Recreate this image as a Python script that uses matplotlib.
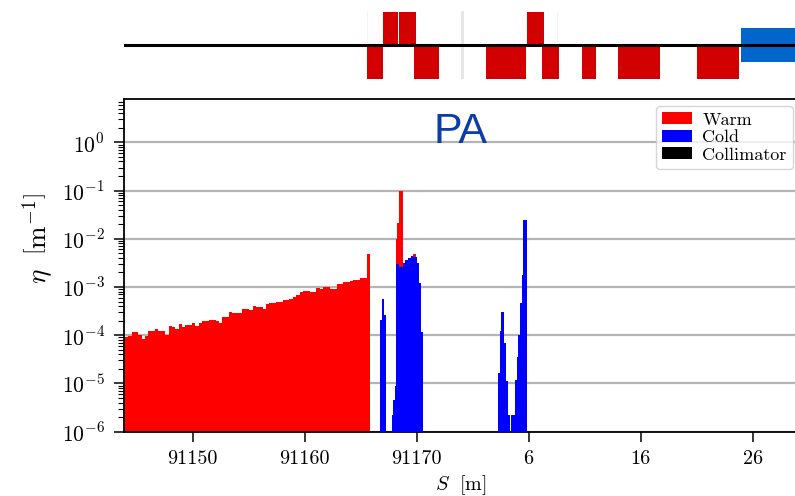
import numpy as np
import matplotlib
matplotlib.use("Agg")
import matplotlib.pyplot as plt
from matplotlib.patches import Patch, Rectangle
from matplotlib.ticker import FixedLocator, FixedFormatter, LogLocator, NullFormatter

plt.rcParams["mathtext.fontset"] = "cm"
plt.rcParams["font.family"] = "serif"
plt.rcParams["font.serif"] = ["cmr10", "DejaVu Serif"]
plt.rcParams["axes.formatter.use_mathtext"] = True

# ring circumference used to wrap the longitudinal coordinate
circumference = 91174.0

# warm-element losses, uniform 0.3 m bins
warm_start = 91143.65
warm_width = 0.3
warm_eta = [
    8.7e-5, 9.1e-5, 9.5e-5, 1.15e-4, 1.15e-4, 1.02e-4, 8.3e-5, 9.8e-5, 1.2e-4, 1.2e-4,
    1.35e-4, 1.2e-4, 1.2e-4, 1.0e-4, 1.58e-4, 1.51e-4, 1.35e-4, 1.74e-4, 1.48e-4, 1.66e-4,
    1.66e-4, 1.78e-4, 1.58e-4, 1.78e-4, 2.0e-4, 1.95e-4, 2.09e-4, 2.09e-4, 2.0e-4, 1.78e-4,
    2.34e-4, 2.4e-4, 3.09e-4, 2.88e-4, 2.95e-4, 2.95e-4, 3.55e-4, 3.55e-4, 3.39e-4, 4.07e-4,
    3.8e-4, 3.8e-4, 3.47e-4, 4.47e-4, 4.68e-4, 4.68e-4, 5.0e-4, 5.0e-4, 5.37e-4, 5.5e-4,
    5.75e-4, 6.17e-4, 6.9e-4, 7.76e-4, 8.13e-4, 8.13e-4, 7.94e-4, 7.94e-4, 9.55e-4, 9.12e-4,
    1.02e-3, 1.0e-3, 9.12e-4, 9.12e-4, 1.15e-3, 1.17e-3, 1.29e-3, 1.29e-3, 1.32e-3, 1.41e-3,
    1.41e-3, 1.51e-3, 1.51e-3, 4.8e-3,
]

# warm losses inside the final-focus quadrupole region
warm2_edges = [91168.13, 91168.27, 91168.42, 91168.75, 91169.70, 91169.94]
warm2_eta = [1.0e-2, 2.1e-2, 1.0e-1, 0.0, 4.9e-3]

# cold-element losses
cold_edges = [
    91166.72, 91166.875, 91167.11, 91167.23,
    91167.77, 91167.91, 91168.04, 91168.13, 91168.45, 91168.75, 91168.96, 91169.25,
    91169.46, 91169.70, 91170.00, 91170.24, 91170.39, 91170.60,
    91177.29, 91177.44, 91177.53, 91177.82, 91177.97, 91178.18, 91178.30, 91178.39,
    91178.78, 91178.93, 91179.07, 91179.22, 91179.37, 91179.46, 91179.82,
]
cold_eta = [
    2.1e-4, 5.6e-4, 2.6e-4,
    0.0,
    2.2e-6, 4.6e-6, 8.7e-6, 3.0e-3, 2.65e-3, 3.1e-3, 3.65e-3, 4.0e-3,
    4.3e-3, 4.2e-3, 3.2e-3, 1.2e-3, 1.15e-4,
    0.0,
    1.65e-5, 1.2e-4, 3.1e-4, 6.9e-5, 1.1e-5, 2.25e-6, 0.0, 2.25e-6,
    1.2e-5, 3.6e-5, 1.02e-4, 4.7e-4, 1.8e-3, 2.46e-2,
]
# element boundaries where the cold losses are drawn as separate pieces
cold_breaks = [91168.45]

# beamline layout
quads_upper = [(91166.96, 91168.34), (91168.46, 91169.92), (91179.89, 91181.36)]
bends_lower = [(91165.61, 91167.03), (91169.80, 91172.04), (91176.20, 91179.78),
               (91181.24, 91182.67), (91184.75, 91185.98), (91188.02, 91191.72),
               (91195.07, 91198.80)]
solenoids = [(91198.92, 91215.0)]
markers = [(91165.56, 91165.66, "#f4f4f4"), (91174.00, 91174.27, "#e6e6e6"),
           (91182.50, 91182.60, "#f4f4f4")]

x_ticks = [91150, 91160, 91170, 91180, 91190, 91200]
y_ticks = [1e-6, 1e-5, 1e-4, 1e-3, 1e-2, 1e-1, 1e0]
x_range = (91143.9, 91204.0)
y_range = (1e-6, 7.9)


def filled_runs(edges, vals, breaks=()):
    edges = np.asarray(edges, float)
    vals = np.asarray(vals, float)
    runs, cur = [], []
    for i, v in enumerate(vals):
        if v > 0:
            if cur and any(np.isclose(edges[i], b) for b in breaks):
                runs.append(cur)
                cur = []
            cur.append(i)
        elif cur:
            runs.append(cur)
            cur = []
    if cur:
        runs.append(cur)
    for r in runs:
        yield edges[r[0]:r[-1] + 2], vals[r[0]:r[-1] + 1]


W, H = 795, 496
fig = plt.figure(figsize=(W / 100, H / 100), dpi=100)

left_px, right_px, top_px, bottom_px = 124.3, 797.4, 99.0, 431.7
ax = fig.add_axes([left_px / W, 1 - bottom_px / H, (right_px - left_px) / W,
                   (bottom_px - top_px) / H])
ax_top = fig.add_axes([left_px / W, 1 - 90 / H, (right_px - left_px) / W, 90 / H])

# loss histogram
ax.set_yscale("log")
floor = 1e-9
warm_edges = warm_start + warm_width * np.arange(len(warm_eta) + 1)
for e, v in filled_runs(warm_edges, warm_eta):
    ax.stairs(v, e, baseline=floor, fill=True, color="#ff0000", lw=0, zorder=2)
for e, v in filled_runs(warm2_edges, warm2_eta):
    ax.stairs(v, e, baseline=floor, fill=True, color="#ff0000", lw=0, zorder=2)
for e, v in filled_runs(cold_edges, cold_eta, cold_breaks):
    ax.stairs(v, e, baseline=floor, fill=True, color="#0000ff", lw=0, zorder=3)

ax.set_xlim(*x_range)
ax.set_ylim(*y_range)
ax.set_axisbelow(True)
ax.yaxis.grid(True, which="major", color="#b4b4b4", lw=1.6)

ax.xaxis.set_major_locator(FixedLocator(x_ticks))
ax.xaxis.set_major_formatter(FixedFormatter(
    ["%d" % (t - circumference if t > circumference else t) for t in x_ticks]))
ax.yaxis.set_major_locator(FixedLocator(y_ticks))
ax.yaxis.set_major_formatter(FixedFormatter(
    [r"$10^{%d}$" % int(round(np.log10(t))) for t in y_ticks]))
ax.yaxis.set_minor_locator(LogLocator(base=10, subs=np.arange(2, 10), numticks=50))
ax.yaxis.set_minor_formatter(NullFormatter())
ax.tick_params(axis="both", which="major", direction="out", length=7, width=1.1,
               labelsize=14.5, pad=6)
ax.tick_params(axis="y", which="major", labelsize=15.5, pad=7)
ax.tick_params(axis="y", which="minor", direction="out", length=4, width=0.8)
ax.tick_params(axis="x", which="minor", bottom=False)
for s in ax.spines.values():
    s.set_linewidth(1.3)

ax.set_xlabel(r"$S\ \ [\mathrm{m}]$", fontsize=14.5, labelpad=4)
ax.set_ylabel(r"$\eta\ \ \left[\mathrm{m}^{-1}\right]$", fontsize=19.5)
ax.yaxis.set_label_coords(-0.101, 0.58)

ax.text(0.5, 0.869, "PA", transform=ax.transAxes, ha="center", va="baseline",
        fontsize=31, color="#0c3ca8", family="Liberation Sans")

handles = [Patch(facecolor="#ff0000", label="Warm"),
           Patch(facecolor="#0000ff", label="Cold"),
           Patch(facecolor="black", label="Collimator")]
ax.legend(handles=handles, loc="upper right", bbox_to_anchor=(0.9935, 0.979),
          borderaxespad=0, fontsize=13, handlelength=1.67, handleheight=0.65,
          labelspacing=0.12, borderpad=0.35, handletextpad=0.55, framealpha=0.8)

# beamline schematic
ax_top.set_xlim(*x_range)
ax_top.set_ylim(-1, 1)
ax_top.axis("off")
for s0, s1, c in markers:
    ax_top.add_patch(Rectangle((s0, -0.75), s1 - s0, 1.5, color=c, lw=0, zorder=1))
for s0, s1 in quads_upper:
    ax_top.add_patch(Rectangle((s0, 0), s1 - s0, 0.74, color="#d20000", lw=0, zorder=2))
for s0, s1 in bends_lower:
    ax_top.add_patch(Rectangle((s0, -0.76), s1 - s0, 0.76, color="#d20000", lw=0, zorder=2))
for s0, s1 in solenoids:
    ax_top.add_patch(Rectangle((s0, -0.38), s1 - s0, 0.76, color="#0066cc", lw=0, zorder=2))
ax_top.axhline(0, color="black", lw=2.2, zorder=3)

fig.savefig("out.png", dpi=100)
